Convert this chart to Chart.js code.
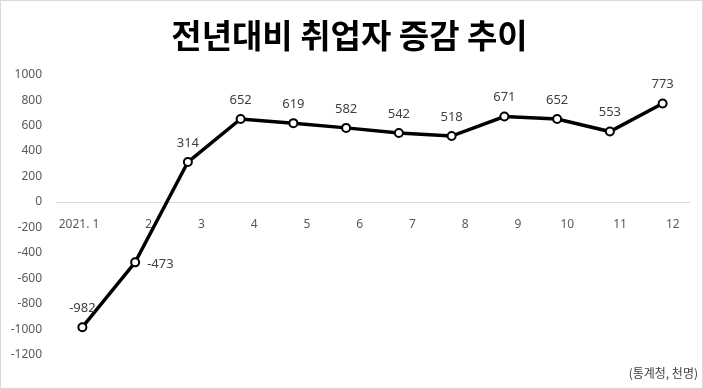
<!DOCTYPE html>
<html>
<head>
<meta charset="utf-8">
<script src="https://cdn.jsdelivr.net/npm/chart.js@4.4.1/dist/chart.umd.min.js"></script>
<style>
    html, body { margin: 0; padding: 0; background: #ffffff; }
    #wrap { width: 703px; height: 389px; position: relative; }
</style>
</head>
<body>
<div id="wrap"><canvas id="myChart"></canvas></div>
<script>
// 데이터 (단위: 천명)
const months = ['2021. 1', '2', '3', '4', '5', '6', '7', '8', '9', '10', '11', '12'];
const changeValues = [-982, -473, 314, 652, 619, 582, 542, 518, 671, 652, 553, 773];
const yTicks = [1000, 800, 600, 400, 200, 0, -200, -400, -600, -800, -1000, -1200];
const titleText = '전년대비 취업자 증감 추이';
const sourceText = '(통계청, 천명)';

const numFont = '"Noto Sans", "DejaVu Sans", sans-serif';
const krFont = '"Noto Sans CJK KR", "Noto Sans", sans-serif';

// 값 라벨 + 출처 + 테두리
const extrasPlugin = {
    id: 'extras',
    afterDatasetsDraw(chart) {
        const ctx = chart.ctx;
        const meta = chart.getDatasetMeta(0);
        ctx.save();
        ctx.font = '13px ' + numFont;
        ctx.fillStyle = '#404040';
        ctx.textBaseline = 'middle';
        meta.data.forEach(function (pt, i) {
            const v = changeValues[i];
            if (i === 1) {
                // 두번째 값은 점 오른쪽
                ctx.textAlign = 'left';
                ctx.fillText(String(v), pt.x + 12, pt.y + 2);
            } else {
                ctx.textAlign = 'center';
                ctx.fillText(String(v), pt.x, pt.y - 19);
            }
        });
        ctx.restore();
    },
    afterDraw(chart) {
        const ctx = chart.ctx;
        ctx.save();
        ctx.font = '12px ' + krFont;
        ctx.fillStyle = '#404040';
        ctx.textAlign = 'right';
        ctx.textBaseline = 'middle';
        ctx.fillText(sourceText, chart.width - 5, chart.height - 16);
        ctx.strokeStyle = '#d9d9d9';
        ctx.lineWidth = 1;
        ctx.strokeRect(0.5, 0.5, chart.width - 1, chart.height - 1);
        ctx.restore();
    }
};

const ctx = document.getElementById('myChart').getContext('2d');
const myChart = new Chart(ctx, {
    type: 'line',
    data: {
        labels: months,
        datasets: [{
            data: changeValues,
            borderColor: '#000000',
            borderWidth: 3.5,
            pointRadius: 4,
            pointBorderWidth: 2,
            pointBackgroundColor: '#ffffff',
            pointBorderColor: '#000000',
            tension: 0,
            fill: false
        }]
    },
    options: {
        responsive: true,
        maintainAspectRatio: false,
        animation: false,
        layout: {
            padding: { left: 10, right: 14, top: 0, bottom: 34 }
        },
        plugins: {
            legend: { display: false },
            tooltip: { enabled: false },
            title: {
                display: true,
                text: titleText,
                color: '#000000',
                font: { family: krFont, size: 33, weight: 'bold' },
                padding: { top: 16, bottom: 19 }
            }
        },
        scales: {
            x: {
                position: { y: 0 },
                offset: true,
                grid: { display: false, drawTicks: false },
                border: { display: true, color: '#d9d9d9', width: 1 },
                afterFit(scale) {
                    scale.paddingLeft = 0;
                    scale.paddingRight = 0;
                },
                ticks: {
                    align: 'end',
                    labelOffset: 17,
                    padding: 15,
                    maxRotation: 0,
                    autoSkip: false,
                    color: '#595959',
                    font: { family: numFont, size: 12 }
                }
            },
            y: {
                min: -1200,
                max: 1000,
                afterBuildTicks(axis) {
                    axis.ticks = yTicks.map(v => ({ value: v }));
                },
                afterFit(scale) {
                    scale.width = 46;
                    scale.paddingTop = 0;
                    scale.paddingBottom = 0;
                },
                grid: { display: false, drawTicks: false },
                border: { display: false },
                ticks: {
                    padding: 14,
                    color: '#595959',
                    font: { family: numFont, size: 12 },
                    callback: function (value) { return String(value); }
                }
            }
        }
    },
    plugins: [extrasPlugin]
});
</script>
</body>
</html>
